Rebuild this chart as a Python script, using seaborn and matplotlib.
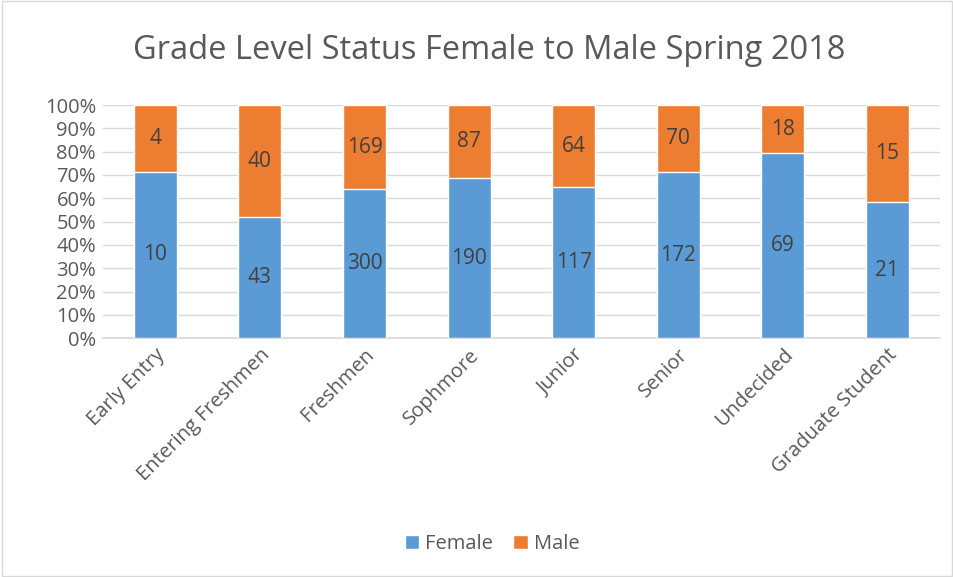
import numpy as np
import pandas as pd
import seaborn as sns
import matplotlib.pyplot as plt
from matplotlib.patches import Rectangle, Patch

# datos
grados = ['Early Entry', 'Entering Freshmen', 'Freshmen', 'Sophmore',
          'Junior', 'Senior', 'Undecided', 'Graduate Student']
mujeres = [10, 43, 300, 190, 117, 172, 69, 21]
hombres = [4, 40, 169, 87, 64, 70, 18, 15]

sns.set_theme(style='white')
plt.rcParams['font.family'] = ['Open Sans', 'DejaVu Sans']

df = pd.DataFrame({'Grado': grados, 'Female': mujeres, 'Male': hombres})
df['Total'] = df['Female'] + df['Male']
df['PctF'] = df['Female'] / df['Total'] * 100
df['PctTotal'] = 100.0

azul = '#5B9BD5'
naranja = '#ED7D31'
gris = '#595959'

fig = plt.figure(figsize=(9.54, 5.77), dpi=100)
ax = fig.add_axes([0.108, 0.414, 0.877, 0.404])

sns.barplot(data=df, x='Grado', y='PctTotal', color=naranja, width=0.41,
            saturation=1, ax=ax, zorder=3)
sns.barplot(data=df, x='Grado', y='PctF', color=azul, width=0.41,
            saturation=1, ax=ax, zorder=4)

# etiquetas de datos
for i, fila in df.iterrows():
    ax.text(i, fila['PctF'] / 2, str(fila['Female']), ha='center', va='center',
            fontsize=15, color='#404040', zorder=5)
    ax.text(i, fila['PctF'] + (100 - fila['PctF']) / 2, str(fila['Male']),
            ha='center', va='center', fontsize=15, color='#404040', zorder=5)

ax.set_ylim(0, 100)
ax.set_xlim(-0.5, len(grados) - 0.5)
ax.set_yticks(np.arange(0, 101, 10))
ax.set_yticklabels([f'{v}%' for v in range(0, 101, 10)], fontsize=14.5, color=gris)
ax.set_xticks(range(len(grados)))
ax.set_xticklabels(grados, rotation=45, ha='right', rotation_mode='anchor',
                   fontsize=14.5, color=gris)
ax.tick_params(axis='both', length=0, pad=5)
ax.set_xlabel('')
ax.set_ylabel('')
ax.grid(axis='y', color='#D9D9D9', linewidth=1, zorder=0)
for s in ['top', 'right', 'left']:
    ax.spines[s].set_visible(False)
ax.spines['bottom'].set_color('#D9D9D9')

fig.text(0.513, 0.913, 'Grade Level Status Female to Male Spring 2018',
         ha='center', va='center', fontsize=23.5, color=gris)

leyenda = [Patch(facecolor=azul, label='Female'), Patch(facecolor=naranja, label='Male')]
fig.legend(handles=leyenda, loc='center', bbox_to_anchor=(0.516, 0.057), ncol=2,
           frameon=False, fontsize=14.5, handlelength=0.7, handleheight=0.7,
           handletextpad=0.3, columnspacing=1.0, labelcolor=gris)

fig.patches.append(Rectangle((0.002, 0.002), 0.996, 0.996, transform=fig.transFigure,
                             fill=False, edgecolor='#D9D9D9', linewidth=1))

plt.savefig('out.png', dpi=100)
